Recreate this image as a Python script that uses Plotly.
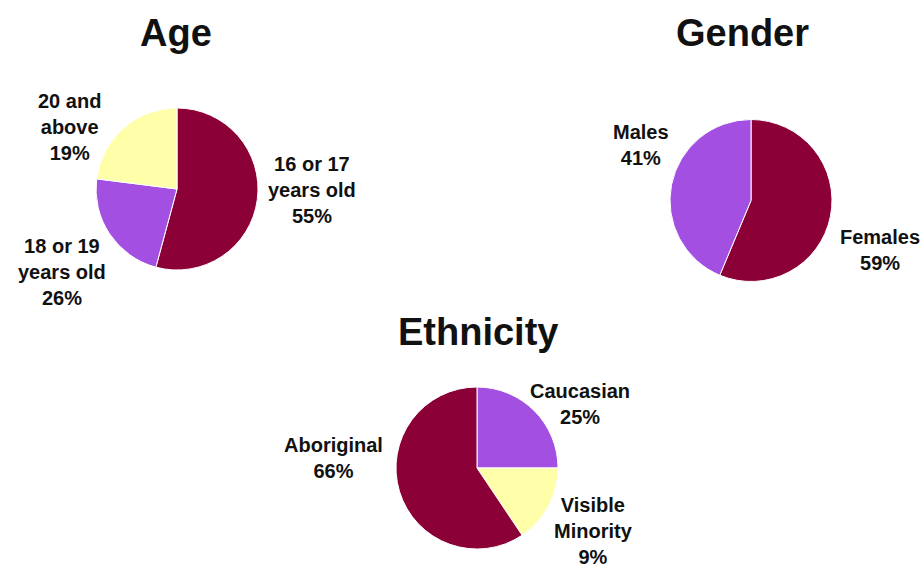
import plotly.graph_objects as go

W, H = 924, 568

# ---- data ----
age_labels = ["16 or 17 years old", "18 or 19 years old", "20 and above"]
age_values = [54.2, 22.8, 23.0]
age_texts = ["16 or 17<br>years old<br>55%", "18 or 19<br>years old<br>26%", "20 and<br>above<br>19%"]

gender_labels = ["Females", "Males"]
gender_values = [56.3, 43.7]
gender_texts = ["Females<br>59%", "Males<br>41%"]

eth_labels = ["Caucasian", "Visible Minority", "Aboriginal"]
eth_values = [25.0, 15.6, 59.4]
eth_texts = ["Caucasian<br>25%", "Visible<br>Minority<br>9%", "Aboriginal<br>66%"]

MAROON = "#8a0037"
PURPLE = "#a24fe2"
YELLOW = "#ffffaa"

def dom(cx, cy, r):
    return dict(x=[(cx - r) / W, (cx + r) / W], y=[1 - (cy + r) / H, 1 - (cy - r) / H])

fig = go.Figure()
fig.add_trace(go.Pie(labels=age_labels, values=age_values, sort=False, direction="clockwise",
                     rotation=0, textinfo="none", hoverinfo="label+percent",
                     marker=dict(colors=[MAROON, PURPLE, YELLOW], line=dict(color="white", width=1)),
                     domain=dom(177, 189, 81), showlegend=False))
fig.add_trace(go.Pie(labels=gender_labels, values=gender_values, sort=False, direction="clockwise",
                     rotation=0, textinfo="none", hoverinfo="label+percent",
                     marker=dict(colors=[MAROON, PURPLE], line=dict(color="white", width=1)),
                     domain=dom(751, 200.5, 81), showlegend=False))
fig.add_trace(go.Pie(labels=eth_labels, values=eth_values, sort=False, direction="clockwise",
                     rotation=0, textinfo="none", hoverinfo="label+percent",
                     marker=dict(colors=[PURPLE, YELLOW, MAROON], line=dict(color="white", width=1)),
                     domain=dom(477, 468, 81), showlegend=False))

FONT = "Liberation Sans, Arial, sans-serif"

def ann(text, x, y, size):
    return dict(text="<b>" + text + "</b>", x=x / W, y=1 - y / H, xref="paper", yref="paper",
                xanchor="center", yanchor="middle", showarrow=False,
                font=dict(family=FONT, size=size, color="#111111"))

annotations = [
    ann("Age", 176, 33, 38),
    ann("Gender", 742, 33, 38),
    ann("Ethnicity", 478, 332, 38),
    ann(age_texts[0], 312, 190, 20),
    ann(age_texts[1], 62, 272, 20),
    ann(age_texts[2], 69, 127, 20),
    ann(gender_texts[0], 880, 250, 20),
    ann(gender_texts[1], 641, 145, 20),
    ann(eth_texts[0], 580, 404, 20),
    ann(eth_texts[1], 593, 531, 20),
    ann(eth_texts[2], 333, 458, 20),
]

fig.update_layout(width=W, height=H, margin=dict(l=0, r=0, t=0, b=0),
                  paper_bgcolor="white", plot_bgcolor="white",
                  annotations=annotations)

fig.write_html("out.html")
